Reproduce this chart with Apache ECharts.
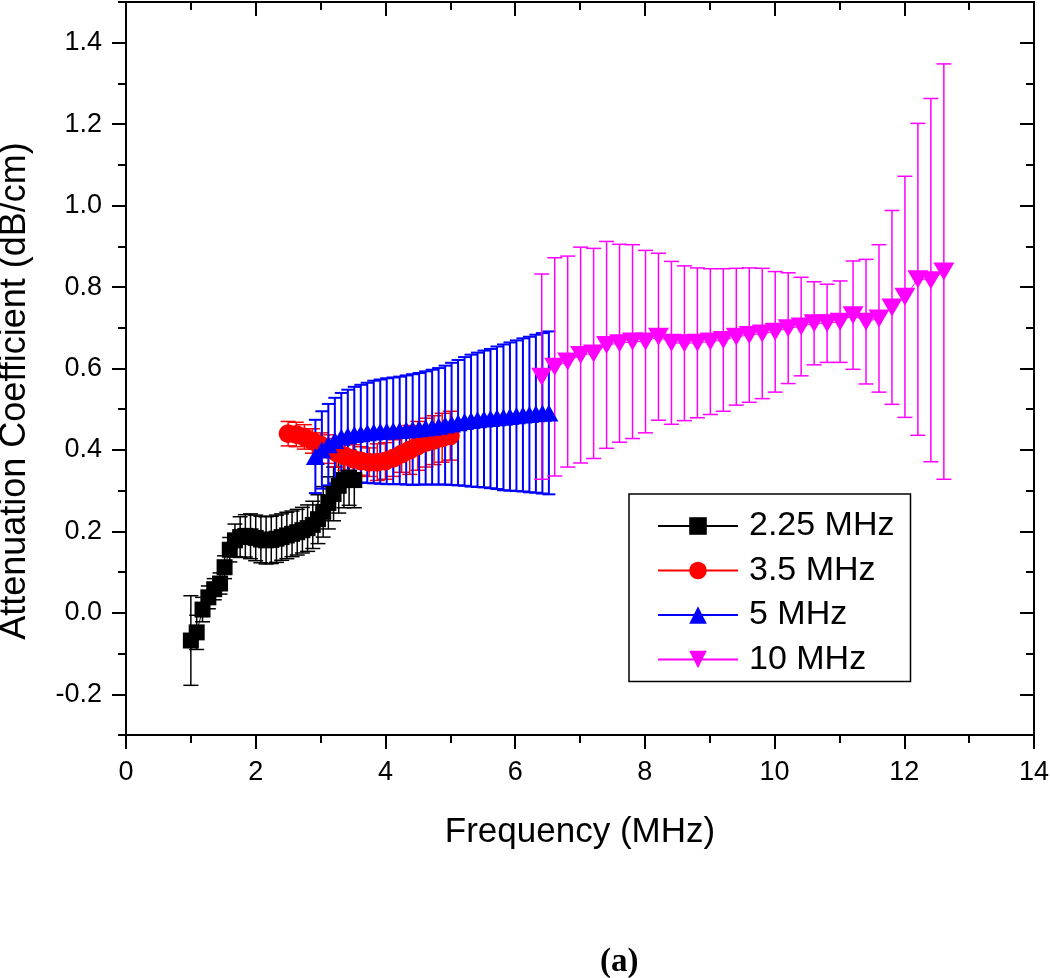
<!DOCTYPE html>
<html>
<head>
<meta charset="utf-8">
<script src="https://cdn.jsdelivr.net/npm/echarts@6/dist/echarts.min.js"></script>
<style>
  html, body { margin: 0; padding: 0; background: #fff; }
  #chart { width: 1050px; height: 978px; }
</style>
</head>
<body>
<div id="chart"></div>
<script>
// ---- data ----
const seriesNames = ['2.25 MHz', '3.5 MHz', '5 MHz', '10 MHz'];

const xBlack = [1.00, 1.09, 1.18, 1.27, 1.36, 1.45, 1.52, 1.60, 1.68, 1.76, 1.84, 1.92, 2.00, 2.08, 2.16, 2.24,
                2.32, 2.40, 2.48, 2.56, 2.64, 2.72, 2.80, 2.88, 2.96, 3.04, 3.12, 3.20, 3.28, 3.36, 3.44, 3.52];
const yBlack = [-0.068, -0.048, 0.008, 0.038, 0.058, 0.072, 0.112, 0.155, 0.178, 0.186, 0.189, 0.188, 0.184, 0.180, 0.178, 0.179,
                0.182, 0.186, 0.190, 0.194, 0.198, 0.203, 0.208, 0.216, 0.230, 0.248, 0.270, 0.292, 0.312, 0.326, 0.332, 0.326];
const eBlack = [0.110, 0.042, 0.030, 0.028, 0.026, 0.026, 0.028, 0.030, 0.040, 0.050, 0.052, 0.055, 0.056, 0.057, 0.058, 0.058,
                0.058, 0.057, 0.057, 0.056, 0.056, 0.056, 0.057, 0.058, 0.060, 0.062, 0.064, 0.066, 0.067, 0.068, 0.068, 0.068];

const xRed = [2.500, 2.625, 2.750, 2.875, 3.000, 3.125, 3.250, 3.375, 3.500, 3.625, 3.750,
              3.875, 4.000, 4.125, 4.250, 4.375, 4.500, 4.625, 4.750, 4.875, 5.000];
const yRed = [0.440, 0.438, 0.432, 0.422, 0.412, 0.402, 0.393, 0.385, 0.378, 0.373, 0.370,
              0.370, 0.373, 0.380, 0.390, 0.400, 0.410, 0.418, 0.424, 0.430, 0.435];
const eRed = [0.030, 0.030, 0.030, 0.030, 0.030, 0.035, 0.035, 0.035, 0.035, 0.035, 0.035,
              0.045, 0.045, 0.045, 0.045, 0.060, 0.060, 0.060, 0.060, 0.060, 0.060];

const xBlue = [2.92, 3.02, 3.12, 3.22, 3.32, 3.42, 3.52, 3.62, 3.72, 3.82, 3.92, 4.02, 4.12, 4.22, 4.32, 4.42, 4.52, 4.62, 4.72,
               4.82, 4.92, 5.02, 5.12, 5.22, 5.32, 5.42, 5.52, 5.62, 5.72, 5.82, 5.92, 6.02, 6.12, 6.22, 6.32, 6.42, 6.52];
const yBlue = [0.384, 0.400, 0.413, 0.423, 0.431, 0.435, 0.438, 0.440, 0.442, 0.444, 0.445, 0.446, 0.447, 0.448, 0.449, 0.450, 0.452, 0.454, 0.456,
               0.458, 0.461, 0.464, 0.467, 0.470, 0.472, 0.474, 0.476, 0.477, 0.479, 0.480, 0.482, 0.484, 0.486, 0.487, 0.489, 0.490, 0.491];
const eBlue = [0.090, 0.095, 0.100, 0.105, 0.109, 0.113, 0.117, 0.120, 0.123, 0.126, 0.128, 0.130, 0.131, 0.132, 0.134, 0.136, 0.137, 0.139, 0.141,
               0.143, 0.146, 0.150, 0.154, 0.158, 0.162, 0.165, 0.168, 0.171, 0.175, 0.179, 0.182, 0.185, 0.188, 0.191, 0.194, 0.197, 0.200];

const xMag = [6.41, 6.61, 6.81, 7.01, 7.21, 7.41, 7.61, 7.81, 8.01, 8.21, 8.41, 8.61, 8.81, 9.01, 9.21, 9.41,
              9.61, 9.81, 10.01, 10.21, 10.41, 10.61, 10.81, 11.01, 11.21, 11.41, 11.61, 11.81, 12.01, 12.21, 12.41, 12.61];
const yMag = [0.580, 0.604, 0.617, 0.633, 0.637, 0.658, 0.662, 0.666, 0.666, 0.678, 0.663, 0.662, 0.663, 0.666, 0.670, 0.678,
              0.682, 0.686, 0.690, 0.699, 0.703, 0.711, 0.711, 0.715, 0.731, 0.715, 0.723, 0.750, 0.776, 0.819, 0.817, 0.838];
const eMag = [0.252, 0.268, 0.259, 0.265, 0.258, 0.254, 0.243, 0.238, 0.224, 0.205, 0.200, 0.190, 0.184, 0.179, 0.175, 0.168,
              0.165, 0.160, 0.148, 0.136, 0.121, 0.102, 0.096, 0.100, 0.133, 0.153, 0.181, 0.238, 0.296, 0.383, 0.446, 0.510];

const xTickLabels = [0, 2, 4, 6, 8, 10, 12, 14];
const yMajorTicks = [-0.2, 0.0, 0.2, 0.4, 0.6, 0.8, 1.0, 1.2, 1.4];
const yMinorTicks = [-0.3, -0.1, 0.1, 0.3, 0.5, 0.7, 0.9, 1.1, 1.3, 1.5];
const xTitle = 'Frequency (MHz)';
const yTitle = 'Attenuation Coefficient (dB/cm)';
const panelLabel = '(a)';

// ---- chart ----
const FONT = 'Liberation Sans, Arial, sans-serif';
const chart = echarts.init(document.getElementById('chart'), null, { renderer: 'canvas' });

function pts(xs, ys) { return xs.map((x, i) => [x, ys[i]]); }
function errPts(xs, ys, es) { return xs.map((x, i) => [x, ys[i], es[i]]); }

function errSeries(xs, ys, es, color, capW, lw) {
  return {
    type: 'custom',
    silent: true,
    xAxisIndex: 0, yAxisIndex: 0,
    encode: { x: 0, y: 1 },
    data: errPts(xs, ys, es),
    renderItem: function (params, api) {
      const x = api.value(0), y = api.value(1), e = api.value(2);
      const t = api.coord([x, y + e]);
      const b = api.coord([x, y - e]);
      const st = { stroke: color, lineWidth: lw };
      return {
        type: 'group',
        children: [
          { type: 'line', shape: { x1: t[0], y1: t[1], x2: b[0], y2: b[1] }, style: st },
          { type: 'line', shape: { x1: t[0] - capW / 2, y1: t[1], x2: t[0] + capW / 2, y2: t[1] }, style: st },
          { type: 'line', shape: { x1: b[0] - capW / 2, y1: b[1], x2: b[0] + capW / 2, y2: b[1] }, style: st }
        ]
      };
    }
  };
}

function lineSeries(name, xs, ys, color, symbol, size) {
  return {
    name: name,
    type: 'line',
    xAxisIndex: 0, yAxisIndex: 0,
    data: pts(xs, ys),
    symbol: symbol,
    symbolSize: size,
    showSymbol: true,
    showAllSymbol: true,
    lineStyle: { color: color, width: 1 },
    itemStyle: { color: color, borderWidth: 0 },
    emphasis: { disabled: true },
    silent: true
  };
}

const axisLineStyle = { color: '#000', width: 2 };
const tickStyle = { color: '#000', width: 2 };
const downTri = 'path://M0,0L20,0L10,17Z';

const option = {
  animation: false,
  backgroundColor: '#fff',
  grid: { left: 126, top: 2, width: 908, height: 733, containLabel: false, outerBoundsMode: 'none' },
  xAxis: [
    {
      type: 'value', position: 'bottom', min: 0, max: 14, interval: 2,
      axisLine: { show: true, onZero: false, lineStyle: axisLineStyle },
      axisTick: { show: true, inside: false, length: 14, lineStyle: tickStyle },
      minorTick: { show: true, splitNumber: 2, length: 8, lineStyle: tickStyle },
      axisLabel: { show: true, margin: 24, fontSize: 27, color: '#000', fontFamily: FONT,
                   customValues: xTickLabels, formatter: v => String(v) },
      splitLine: { show: false },
      name: xTitle, nameLocation: 'middle', nameGap: 80,
      nameTextStyle: { fontSize: 35, color: '#000', fontFamily: FONT }
    },
    {
      type: 'value', position: 'top', min: 0, max: 14, interval: 2,
      axisLine: { show: true, onZero: false, lineStyle: axisLineStyle },
      axisTick: { show: true, inside: true, length: 14, lineStyle: tickStyle },
      minorTick: { show: true, splitNumber: 2, length: 8, lineStyle: tickStyle },
      axisLabel: { show: false },
      splitLine: { show: false }
    }
  ],
  yAxis: [
    {
      type: 'value', position: 'left', min: -0.3, max: 1.5, interval: 0.1,
      axisLine: { show: true, onZero: false, lineStyle: axisLineStyle },
      axisTick: { show: true, inside: false, length: 14, lineStyle: tickStyle, customValues: yMajorTicks },
      axisLabel: { show: true, margin: 24, fontSize: 27, color: '#000', fontFamily: FONT,
                   customValues: yMajorTicks, formatter: v => Number(v).toFixed(1) },
      splitLine: { show: false }
    },
    {
      type: 'value', position: 'left', min: -0.3, max: 1.5, interval: 0.1,
      axisLine: { show: false, onZero: false },
      axisTick: { show: true, inside: false, length: 8, lineStyle: tickStyle, customValues: yMinorTicks },
      axisLabel: { show: false },
      splitLine: { show: false }
    },
    {
      type: 'value', position: 'right', min: -0.3, max: 1.5, interval: 0.1,
      axisLine: { show: true, onZero: false, lineStyle: axisLineStyle },
      axisTick: { show: true, inside: true, length: 14, lineStyle: tickStyle, customValues: yMajorTicks },
      axisLabel: { show: false },
      splitLine: { show: false }
    },
    {
      type: 'value', position: 'right', min: -0.3, max: 1.5, interval: 0.1,
      axisLine: { show: false, onZero: false },
      axisTick: { show: true, inside: true, length: 8, lineStyle: tickStyle, customValues: yMinorTicks },
      axisLabel: { show: false },
      splitLine: { show: false }
    }
  ],
  legend: {
    data: seriesNames,
    orient: 'vertical',
    left: 629, top: 494,
    padding: [15, 16, 5, 28],
    itemWidth: 80, itemHeight: 22, itemGap: 10.5,
    borderColor: '#000', borderWidth: 1.5, borderRadius: 0,
    backgroundColor: '#fff',
    selectedMode: false,
    textStyle: { fontSize: 34, color: '#000', fontFamily: FONT, padding: [0, 0, 0, 6] }
  },
  graphic: [
    {
      type: 'text', x: 15, y: 391, rotation: Math.PI / 2,
      style: { text: yTitle, font: '36px "Liberation Sans", Arial, sans-serif', fill: '#000',
               align: 'center', verticalAlign: 'middle', textAlign: 'center', textVerticalAlign: 'middle' }
    },
    {
      type: 'text', left: 600, top: 946,
      style: { text: panelLabel, font: 'bold 33px "Liberation Serif", "Times New Roman", serif', fill: '#000' }
    }
  ],
  series: [
    errSeries(xBlack, yBlack, eBlack, '#000000', 15, 1.5),
    lineSeries(seriesNames[0], xBlack, yBlack, '#000000', 'rect', 16),
    errSeries(xRed, yRed, eRed, '#ff0000', 15, 1.5),
    lineSeries(seriesNames[1], xRed, yRed, '#ff0000', 'circle', 19),
    errSeries(xBlue, yBlue, eBlue, '#0000ff', 13, 2),
    lineSeries(seriesNames[2], xBlue, yBlue, '#0000ff', 'triangle', [19, 17]),
    errSeries(xMag, yMag, eMag, '#ff00ff', 15, 1.5),
    lineSeries(seriesNames[3], xMag, yMag, '#ff00ff', downTri, [21, 18])
  ]
};

chart.setOption(option);
</script>
</body>
</html>
